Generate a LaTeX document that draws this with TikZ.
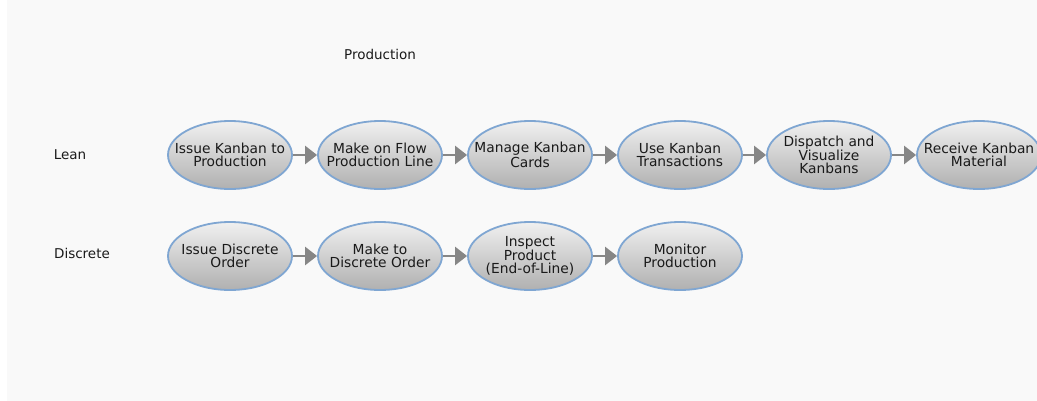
\documentclass[tikz,border=0pt]{standalone}
\usepackage{fontspec}
\setmainfont{DejaVu Sans}
\usetikzlibrary{arrows.meta,shapes.geometric}
\definecolor{bgc}{HTML}{F9F9F9}
\definecolor{ellblue}{HTML}{7FA6D2}
\definecolor{topg}{HTML}{F0F0F0}
\definecolor{botg}{HTML}{B0B0B0}
\definecolor{arrgray}{HTML}{868686}
\definecolor{txt}{HTML}{1A1A1A}
\begin{document}
\begin{tikzpicture}[x=1pt,y=-1pt,
  proc/.style={ellipse, draw=ellblue, line width=1.8pt, minimum width=124pt,
    minimum height=68pt, inner sep=0pt, top color=topg, bottom color=botg},
  ptext/.style={align=center, inner sep=0pt, text=txt,
    font=\fontsize{13.8}{12.8}\selectfont},
  lab/.style={text=txt, inner sep=0pt, font=\fontsize{13.5}{13}\selectfont},
  flow/.style={draw=arrgray, line width=2.5pt,
    -{Triangle[length=12pt,width=18pt,fill=arrgray]}}]
\useasboundingbox (0,0) rectangle (1037,400);
\fill[white] (-2,-2) rectangle (1040,402);
\fill[bgc] (7,-2) rectangle (1040,402);

\node[lab] (title) at (380,54) {Production};
\node[lab] (lean) at (70,155) {Lean};
\node[lab] (disc) at (82,253) {Discrete};

% Lean row
\node[proc] (l1) at (230,155) {};
\node[proc] (l2) at (380,155) {};
\node[proc] (l3) at (530,155) {};
\node[proc] (l4) at (680,155) {};
\node[proc] (l5) at (829,155) {};
\node[proc] (l6) at (979,155) {};
\node[ptext] (l1t) at (l1) {Issue Kanban to\\Production};
\node[ptext] (l2t) at (l2) {Make on Flow\\Production Line};
\node[ptext] (l3t) at (l3) {Manage Kanban\\Cards};
\node[ptext] (l4t) at (l4) {Use Kanban\\Transactions};
\node[ptext] (l5t) at (l5) {Dispatch and\\Visualize\\Kanbans};
\node[ptext] (l6t) at (l6) {Receive Kanban\\Material};

% Discrete row
\node[proc] (d1) at (230,256) {};
\node[proc] (d2) at (380,256) {};
\node[proc] (d3) at (530,256) {};
\node[proc] (d4) at (680,256) {};
\node[ptext] (d1t) at (d1) {Issue Discrete\\Order};
\node[ptext] (d2t) at (d2) {Make to\\Discrete Order};
\node[ptext] (d3t) at (d3) {Inspect\\Product\\(End-of-Line)};
\node[ptext] (d4t) at (d4) {Monitor\\Production};

\draw[flow] (l1.east) -- (l2.west);
\draw[flow] (l2.east) -- (l3.west);
\draw[flow] (l3.east) -- (l4.west);
\draw[flow] (l4.east) -- (l5.west);
\draw[flow] (l5.east) -- (l6.west);
\draw[flow] (d1.east) -- (d2.west);
\draw[flow] (d2.east) -- (d3.west);
\draw[flow] (d3.east) -- (d4.west);
\end{tikzpicture}
\end{document}
